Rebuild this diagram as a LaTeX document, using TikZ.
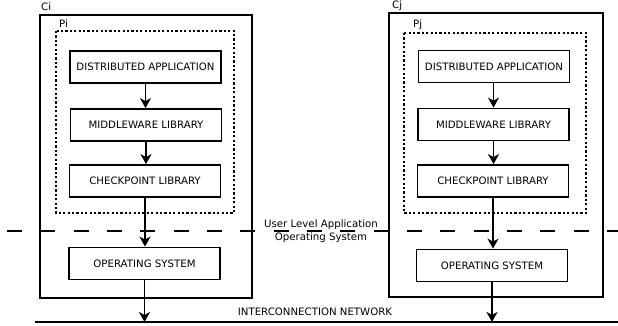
\documentclass[tikz,border=0pt]{standalone}
\usepackage{fontspec}
\setmainfont{DejaVu Sans}
\usetikzlibrary{arrows.meta}
\begin{document}
\begin{tikzpicture}[x=1pt,y=-1pt,
  layer/.style={draw,line width=1.8pt,minimum width=151pt,minimum height=32pt,inner sep=0pt,font=\fontsize{10.2}{12}\selectfont},
  outerbox/.style={draw,line width=1.8pt},
  procbox/.style={draw,line width=1.5pt,dash pattern=on 2.2pt off 2.2pt},
  lbl/.style={anchor=west,inner sep=0pt,font=\fontsize{10.2}{12}\selectfont},
  txt/.style={inner sep=0pt,font=\fontsize{10.2}{12}\selectfont},
  flow/.style={line width=1.8pt,-{Stealth[length=10pt,width=11pt,inset=3pt]}},
  sep/.style={line width=1.4pt,dash pattern=on 15pt off 18.33pt}
]
\useasboundingbox (0,0) rectangle (618,325);
\fill[white] (0,0) rectangle (618,325);
% separator line
\draw[sep] (7,231) -- (618,231);
% Ci
\draw[outerbox] (40,15) rectangle (252,298);
\draw[procbox] (56,31) rectangle (234,213);
\node[lbl] (ci) at (41,6.5) {Ci};
\node[lbl] (pi) at (59,23.5) {Pi};
\node[layer] (dl) at (145.5,67) {DISTRIBUTED APPLICATION};
\node[layer] (ml) at (146,125) {MIDDLEWARE LIBRARY};
\node[layer] (cl) at (145,181) {CHECKPOINT LIBRARY};
\node[layer] (ol) at (144.5,263.5) {OPERATING SYSTEM};
% Cj
\draw[outerbox] (389,13) rectangle (603,297);
\draw[procbox] (404,33) rectangle (586,213);
\node[lbl] (cj) at (392,5.5) {Cj};
\node[lbl] (pj) at (413,25) {Pj};
\node[layer] (dr) at (494,66.5) {DISTRIBUTED APPLICATION};
\node[layer] (mr) at (493.5,124.5) {MIDDLEWARE LIBRARY};
\node[layer] (cr) at (493,181) {CHECKPOINT LIBRARY};
\node[layer] (or) at (492,265.5) {OPERATING SYSTEM};
% middle text
\node[txt] (ula) at (321,225) {User Level Application};
\node[txt] (osl) at (321,238) {Operating System};
% network
\coordinate (na) at (35,322);
\coordinate (nb) at (618,322);
\draw[line width=2pt] (na) -- (nb);
\node[txt] (net) at (315,312) {INTERCONNECTION NETWORK};
% arrows left
\draw[flow] (dl.south) -- (dl.south |- ml.north);
\draw[flow] (ml.south) -- (ml.south |- cl.north);
\draw[flow] (cl.south) -- (cl.south |- ol.north);
\draw[flow] (ol.south) -- (ol.south |- na);
% arrows right
\draw[flow] (dr.south -| mr.south) -- (mr.north);
\draw[flow] (mr.south) -- (mr.south |- cr.north);
\draw[flow] (cr.south) -- (cr.south |- or.north);
\draw[flow] (or.south) -- (or.south |- nb);
\end{tikzpicture}
\end{document}
